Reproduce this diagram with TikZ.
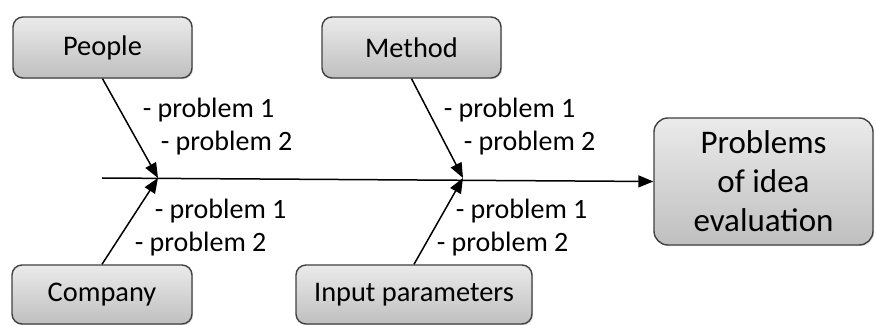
\documentclass[tikz,border=0pt]{standalone}
\usepackage{fontspec}
\setmainfont{Carlito}
\usetikzlibrary{arrows.meta,shadows}

\begin{document}
\begin{tikzpicture}[x=0.5pt,y=-0.5pt,>={Triangle[length=7.5pt,width=6pt]},thick,
    main node/.style={draw=black!75,line width=0.7pt,rounded corners=5pt,top color=black!8,bottom color=black!25,
        drop shadow={shadow xshift=0.6pt,shadow yshift=-0.6pt,opacity=0.25},
        font=\fontsize{14.2}{16}\selectfont,align=center,inner sep=0pt},
    label node/.style={anchor=west,inner sep=0pt,font=\fontsize{14}{16}\selectfont}]
    \useasboundingbox (0,0) rectangle (876,325);

    \node[main node,minimum width=89.5pt,minimum height=30.5pt] (people) at (102.5,47.5) {People};
    \node[main node,minimum width=89.5pt,minimum height=30.5pt] (method) at (411.5,47.5) {Method};
    \node[main node,minimum width=90pt,minimum height=29.5pt] (company) at (102,294.5) {Company};
    \node[main node,minimum width=118pt,minimum height=29.5pt] (input) at (414,294.5) {Input parameters};
    \node[main node,minimum width=109.5pt,minimum height=63.5pt,rounded corners=7pt,
        font=\fontsize{16.5}{19.5}\selectfont] (problems) at (763.5,181.5) {Problems\\of idea\\evaluation};

    \coordinate (tail) at (102,178);
    \coordinate (j1) at (158,178);
    \coordinate (j2) at (463,178);

    \draw[line width=0.75pt,->] (tail) -- (problems.west);
    \draw[line width=0.75pt,->] (people.south) -- (j1);
    \draw[line width=0.75pt,->] (company.north) -- (j1);
    \draw[line width=0.75pt,->] (method.south) -- (j2);
    \draw[line width=0.75pt,->] (input.north) -- (j2);

    % causes
    \node[label node] (p1a) at (142,110) {- problem 1};
    \node[label node] (p1b) at (160,143) {- problem 2};
    \node[label node] (m1a) at (443,110) {- problem 1};
    \node[label node] (m1b) at (463,143) {- problem 2};
    \node[label node] (c1a) at (154,211) {- problem 1};
    \node[label node] (c1b) at (134,244) {- problem 2};
    \node[label node] (i1a) at (455,211) {- problem 1};
    \node[label node] (i1b) at (436,244) {- problem 2};
\end{tikzpicture}
\end{document}
